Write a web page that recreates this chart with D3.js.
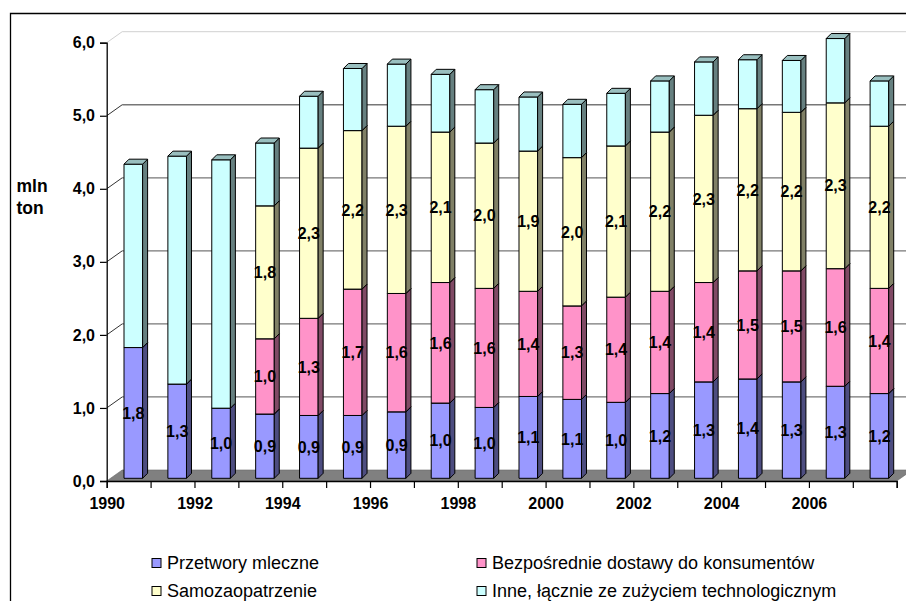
<!DOCTYPE html>
<html>
<head>
<meta charset="utf-8">
<script src="https://cdn.jsdelivr.net/npm/d3@7/dist/d3.min.js"></script>
<style>
  html, body { margin: 0; padding: 0; background: #ffffff; }
  svg { display: block; font-family: Arial, "Liberation Sans", sans-serif; }
</style>
</head>
<body>
<svg id="chart" width="906" height="601"></svg>
<script>
// Rozdysponowanie mleka, mln ton
const years = d3.range(1990, 2008);
const przetwory = [1.79, 1.29, 0.96, 0.88, 0.86, 0.86, 0.91, 1.03, 0.97, 1.12, 1.08, 1.04, 1.16, 1.32, 1.36, 1.32, 1.26, 1.16];
const bezposrednie = [0, 0, 0, 1.03, 1.33, 1.73, 1.62, 1.65, 1.63, 1.44, 1.28, 1.44, 1.40, 1.36, 1.48, 1.52, 1.61, 1.44];
const samozaopatrzenie = [0, 0, 0, 1.82, 2.33, 2.17, 2.29, 2.06, 1.99, 1.92, 2.03, 2.07, 2.18, 2.29, 2.22, 2.17, 2.27, 2.22];
const inne = [2.51, 3.12, 3.40, 0.86, 0.71, 0.85, 0.85, 0.79, 0.73, 0.74, 0.73, 0.72, 0.70, 0.73, 0.67, 0.71, 0.88, 0.62];

const seriesNames = ["Przetwory mleczne", "Bezpośrednie dostawy do konsumentów", "Samozaopatrzenie", "Inne, łącznie ze zużyciem technologicznym"];
const seriesColors = ["#9999ff", "#ff93c9", "#ffffcc", "#ccffff"];
const seriesLabelled = [true, true, true, false];
const yTicks = [0, 1, 2, 3, 4, 5, 6];
const xTickYears = d3.range(1990, 2009);
const xLabelYears = [1990, 1992, 1994, 1996, 1998, 2000, 2002, 2004, 2006];
const unitLabel = ["mln", "ton"];

const seriesValues = [przetwory, bezposrednie, samozaopatrzenie, inne];

const svg = d3.select("#chart");
const fmt = v => d3.format(".1f")(v).replace(".", ",");

// front plane scales
const x = d3.scaleLinear().domain([1990, 2008]).range([106.7, 896.7]);
const y = d3.scaleLinear().domain([0, 6]).range([481, 42.7]);

// depth of the plot box (walls / floor) and of the columns
const DX = 15.5, DY = -11;
const colShiftX = 3.8, colShiftY = -2.7;   // columns stand a quarter into the floor
const colDX = 5, colDY = -5;               // column depth
const colInset = 13.5, colWidth = 18.6;

// outer frame
svg.append("path")
  .attr("d", "M10.5,601 V13.5 H906")
  .attr("fill", "none").attr("stroke", "#000").attr("stroke-width", 1.3);

// floor
const floorPts = [[x(1990), y(0)], [x(2008), y(0)], [x(2008) + DX, y(0) + DY], [x(1990) + DX, y(0) + DY]];
svg.append("polygon")
  .attr("points", floorPts.map(p => p.join(",")).join(" "))
  .attr("fill", "#808080").attr("stroke", "#6a6a6a").attr("stroke-width", 0.6);

// gridlines on the back wall, with their diagonals on the side wall
const grid = svg.append("g");
yTicks.filter(t => t > 0).forEach(t => {
  const col = t === 6 ? "#d9d9d9" : "#777777";
  grid.append("line")
    .attr("x1", x(1990) + DX).attr("x2", 920)
    .attr("y1", y(t) + DY).attr("y2", y(t) + DY)
    .attr("stroke", col).attr("stroke-width", 1.3);
  grid.append("line")
    .attr("x1", x(1990)).attr("x2", x(1990) + DX)
    .attr("y1", y(t)).attr("y2", y(t) + DY)
    .attr("stroke", t === 6 ? "#d0d0d0" : "#333333").attr("stroke-width", 1);
});

// stacked 3D columns
const shade = (c, k) => { const r = d3.rgb(c); return d3.rgb(r.r * k, r.g * k, r.b * k).toString(); };
const bars = svg.append("g");
const labels = [];
years.forEach((yr, i) => {
  const xl = x(yr) + colInset + colShiftX;
  const xr = xl + colWidth;
  let base = 0;
  seriesValues.forEach((vals, s) => {
    const v = vals[i];
    if (!(v > 0)) return;
    const top = base + v;
    const yb = y(base) + colShiftY, yt = y(top) + colShiftY;
    const g = bars.append("g").attr("stroke", "#000").attr("stroke-width", 1).attr("stroke-linejoin", "round");
    g.append("rect")
      .attr("x", xl).attr("y", yt).attr("width", colWidth).attr("height", yb - yt)
      .attr("fill", seriesColors[s]);
    g.append("polygon")
      .attr("points", [[xr, yb], [xr + colDX, yb + colDY], [xr + colDX, yt + colDY], [xr, yt]].map(p => p.join(",")).join(" "))
      .attr("fill", shade(seriesColors[s], 0.5));
    g.append("polygon")
      .attr("points", [[xl, yt], [xr, yt], [xr + colDX, yt + colDY], [xl + colDX, yt + colDY]].map(p => p.join(",")).join(" "))
      .attr("fill", shade(seriesColors[s], 0.75));
    if (seriesLabelled[s]) labels.push({ x: (xl + xr) / 2, y: (yb + yt) / 2, v });
    base = top;
  });
});

// value labels
svg.append("g").selectAll("text").data(labels).join("text")
  .attr("x", d => d.x).attr("y", d => d.y).attr("dy", "0.36em")
  .attr("text-anchor", "middle")
  .attr("font-size", 16).attr("font-weight", "bold").attr("fill", "#000")
  .text(d => fmt(d.v));

// value axis
const yAxis = svg.append("g").attr("transform", `translate(${x(1990)},0)`)
  .call(d3.axisLeft(y).tickValues(yTicks).tickSize(6.7).tickPadding(5).tickFormat(fmt));
yAxis.select(".domain").attr("stroke", "#000").attr("stroke-width", 1.3);
yAxis.selectAll(".tick line").attr("stroke", "#000").attr("stroke-width", 1.2);
yAxis.selectAll("text").attr("font-size", 16).attr("font-weight", "bold")
  .attr("font-family", "Arial, 'Liberation Sans', sans-serif").attr("fill", "#000");

// category axis
const xAxis = svg.append("g").attr("transform", `translate(0,${y(0)})`)
  .call(d3.axisBottom(x).tickValues(xTickYears).tickSize(7).tickPadding(10)
    .tickFormat(d => xLabelYears.includes(d) ? String(d) : ""));
xAxis.select(".domain").attr("stroke", "#000").attr("stroke-width", 1.3);
xAxis.selectAll(".tick line").attr("stroke", "#000").attr("stroke-width", 1.2);
xAxis.selectAll("text").attr("font-size", 16).attr("font-weight", "bold")
  .attr("font-family", "Arial, 'Liberation Sans', sans-serif").attr("fill", "#000");

// unit label
svg.append("g").selectAll("text").data(unitLabel).join("text")
  .attr("x", 16.5).attr("y", (d, i) => 192 + i * 21.5)
  .attr("font-size", 17.5).attr("font-weight", "bold").attr("fill", "#000")
  .text(d => d);

// legend
const legendPos = [[151.5, 569], [476.5, 569], [151.5, 597], [476.5, 597]];
const legend = svg.append("g").selectAll("g").data(seriesNames).join("g")
  .attr("transform", (d, i) => `translate(${legendPos[i][0]},${legendPos[i][1]})`);
legend.append("rect")
  .attr("x", 0.5).attr("y", -10.5).attr("width", 9).attr("height", 9)
  .attr("fill", (d, i) => seriesColors[i]).attr("stroke", "#000").attr("stroke-width", 1);
legend.append("text")
  .attr("x", 15.5).attr("y", 0)
  .attr("font-size", 18).attr("fill", "#000")
  .text(d => d);
</script>
</body>
</html>
